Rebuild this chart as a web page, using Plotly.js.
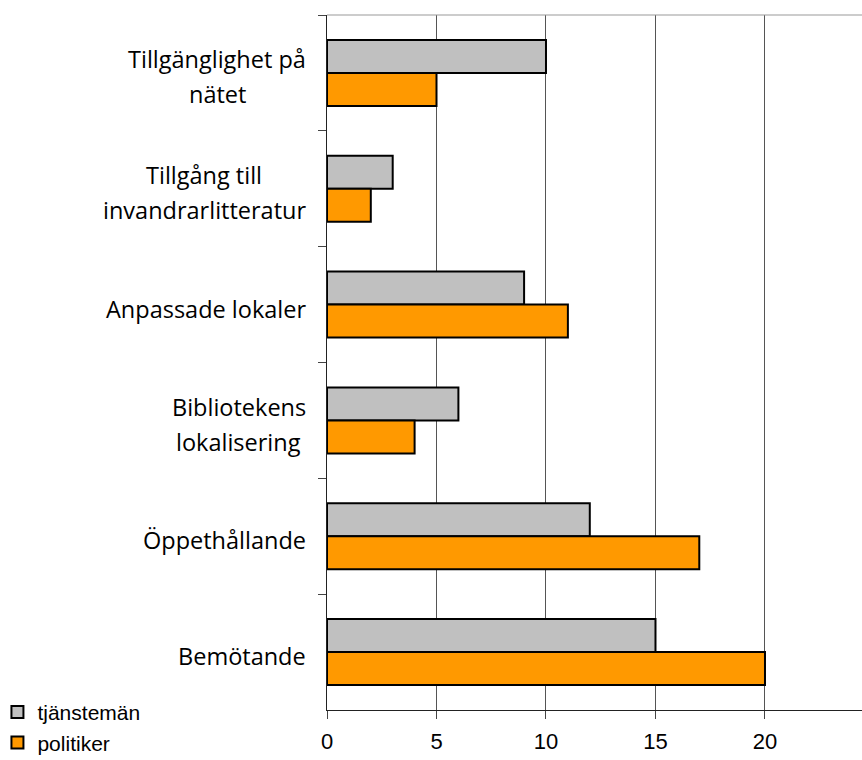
<!DOCTYPE html>
<html><head><meta charset="utf-8">
<script src="https://cdn.plot.ly/plotly-3.0.1.min.js"></script>
<style>html,body{margin:0;padding:0;background:#fff}#chart{width:862px;height:760px}</style>
</head><body><div id="chart"></div>
<script>
// ---- data ----
const categories = ["Tillgänglighet på<br>nätet", "Tillgång till<br>invandrarlitteratur", "Anpassade lokaler", "Bibliotekens<br>lokalisering", "Öppethållande", "Bemötande"];
const tjanstemanValues = [10, 3, 9, 6, 12, 15];
const politikerValues = [5, 2, 11, 4, 17, 20];
const seriesNames = ["tjänstemän", "politiker"];
const xTickValues = [0, 5, 10, 15, 20];

// ---- styling ----
const labelFont = "Open Sans";
const labelSize = 23.5;
const lineGap = 35;
const ctx = document.createElement("canvas").getContext("2d");
ctx.font = labelSize + "px '" + labelFont + "'";

const annotations = [];
categories.forEach(function (cat) {
  const lines = cat.split("<br>");
  const maxW = Math.max.apply(null, lines.map(function (l) { return ctx.measureText(l).width; }));
  lines.forEach(function (line, i) {
    annotations.push({
      xref: "paper", yref: "y", x: 0, y: cat,
      xanchor: "center", yanchor: "middle",
      xshift: -21 - maxW / 2,
      yshift: ((lines.length - 1) / 2 - i) * lineGap - 4,
      text: line, showarrow: false,
      font: {family: labelFont, size: labelSize, color: "#000"}
    });
  });
});

const traces = [
  {type: "bar", orientation: "h", name: seriesNames[0], y: categories, x: tjanstemanValues,
   marker: {color: "#C0C0C0", line: {color: "#000", width: 2}}},
  {type: "bar", orientation: "h", name: seriesNames[1], y: categories, x: politikerValues,
   marker: {color: "#FF9900", line: {color: "#000", width: 2}}}
];

const layout = {
  width: 862, height: 760,
  margin: {l: 327, r: 0, t: 15, b: 50, autoexpand: false},
  paper_bgcolor: "#fff", plot_bgcolor: "#fff",
  barmode: "group", bargap: 0.43, bargroupgap: 0,
  showlegend: true,
  legend: {x: -0.616, xanchor: "left", y: 0.026, yanchor: "top", orientation: "v",
           bgcolor: "rgba(0,0,0,0)", font: {family: "Liberation Sans", size: 21, color: "#000"},
           tracegroupgap: 0, itemwidth: 30},
  xaxis: {range: [0, 24.43], tickmode: "array", tickvals: xTickValues, ticktext: xTickValues.map(String),
          showgrid: true, gridcolor: "#555", gridwidth: 1, zeroline: false,
          showline: true, linecolor: "#222", linewidth: 1,
          ticks: "outside", ticklen: 8, tickcolor: "#444", tickwidth: 1, ticklabelstandoff: 4,
          tickfont: {family: "Liberation Sans", size: 22, color: "#000"}, fixedrange: true},
  yaxis: {type: "category", categoryorder: "array", categoryarray: categories, autorange: "reversed",
          showticklabels: false, showgrid: false, zeroline: false,
          showline: true, linecolor: "#222", linewidth: 1,
          ticks: "outside", tickson: "boundaries", ticklen: 8, tickcolor: "#444", tickwidth: 1, fixedrange: true},
  shapes: [{type: "line", xref: "paper", yref: "paper", x0: 0, x1: 1, y0: 1, y1: 1,
            line: {color: "#999", width: 1}}],
  annotations: annotations
};

Plotly.newPlot("chart", traces, layout, {displayModeBar: false, staticPlot: true});
</script>
</body></html>
